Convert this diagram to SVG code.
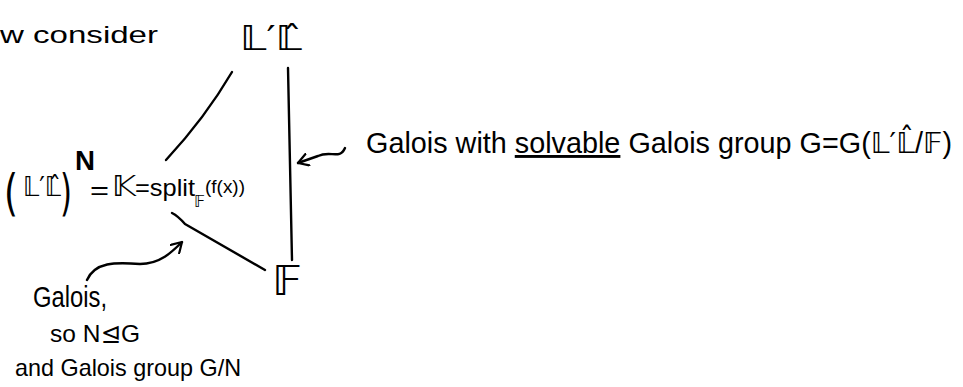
<svg xmlns="http://www.w3.org/2000/svg" width="963" height="387" viewBox="0 0 963 387">
<style>
  text { font-family: "DejaVu Sans", "Liberation Sans", sans-serif; fill: #000; }
  .hw { font-family: "Liberation Sans", "DejaVu Sans", sans-serif; }
  .ln { stroke: #000; stroke-width: 2.4; fill: none; stroke-linecap: round; stroke-linejoin: round; }
</style>
<defs>
  <marker id="open" markerWidth="14" markerHeight="14" refX="11" refY="7" orient="auto" markerUnits="userSpaceOnUse">
    <path d="M1,1 L11,7 L1,13" fill="none" stroke="#000" stroke-width="2.2" stroke-linecap="round" stroke-linejoin="round"/>
  </marker>
</defs>
<rect width="963" height="387" fill="#fff"/>

<g id="heading">
  <text class="hw" x="0" y="43" font-size="24" textLength="158" lengthAdjust="spacingAndGlyphs">w consider</text>
</g>

<g id="node-top">
  <text x="240" y="50" font-size="34" textLength="62" lengthAdjust="spacingAndGlyphs">𝕃′𝕃̂</text>
</g>

<g id="node-middle">
  <text x="4" y="210" font-size="50" textLength="14" lengthAdjust="spacingAndGlyphs">(</text>
  <text x="23" y="196" font-size="26" textLength="38" lengthAdjust="spacingAndGlyphs">𝕃′𝕃̂</text>
  <text x="60" y="210" font-size="50" textLength="12" lengthAdjust="spacingAndGlyphs">)</text>
  <text class="hw" x="75" y="170" font-size="28" font-weight="bold" textLength="20" lengthAdjust="spacingAndGlyphs">N</text>
  <text class="hw" x="90" y="199" font-size="26" textLength="19" lengthAdjust="spacingAndGlyphs">=</text>
  <text x="112" y="196" font-size="28" textLength="24" lengthAdjust="spacingAndGlyphs">𝕂</text>
  <text class="hw" x="135" y="196" font-size="24" textLength="60" lengthAdjust="spacingAndGlyphs">=split</text>
  <text x="194" y="207" font-size="15" textLength="11" lengthAdjust="spacingAndGlyphs">𝔽</text>
  <text class="hw" x="205" y="193" font-size="19" textLength="40" lengthAdjust="spacingAndGlyphs">(f(x))</text>
</g>

<g id="node-bottom">
  <text x="272" y="295" font-size="40" textLength="30" lengthAdjust="spacingAndGlyphs">𝔽</text>
</g>

<g id="label-right">
  <text class="hw" x="366" y="153" font-size="29" textLength="586" lengthAdjust="spacingAndGlyphs">Galois with <tspan text-decoration="underline">solvable</tspan> Galois group G=G(<tspan font-family="DejaVu Sans">𝕃′𝕃̂</tspan>/<tspan font-family="DejaVu Sans">𝔽</tspan>)</text>
</g>

<g id="label-left">
  <text class="hw" x="33" y="307" font-size="30" textLength="74" lengthAdjust="spacingAndGlyphs">Galois,</text>
  <text class="hw" x="50" y="342" font-size="24" textLength="90" lengthAdjust="spacingAndGlyphs">so N⊴G</text>
  <text class="hw" x="15" y="376" font-size="24" textLength="226" lengthAdjust="spacingAndGlyphs">and Galois group G/N</text>
</g>

<g id="connectors">
  <path class="ln" d="M232,72 Q205,118 166,160"/>
  <path class="ln" d="M288,68 L292,260"/>
  <path class="ln" d="M172,213 Q178,216 185,224 L265,270"/>
  <path class="ln" d="M87,280 C95,262 115,262 140,264 C160,264 172,252 182,242" marker-end="url(#open)"/>
  <path class="ln" d="M345,148 C340,160 330,150 318,156 L298,163" marker-end="url(#open)"/>
</g>
</svg>
